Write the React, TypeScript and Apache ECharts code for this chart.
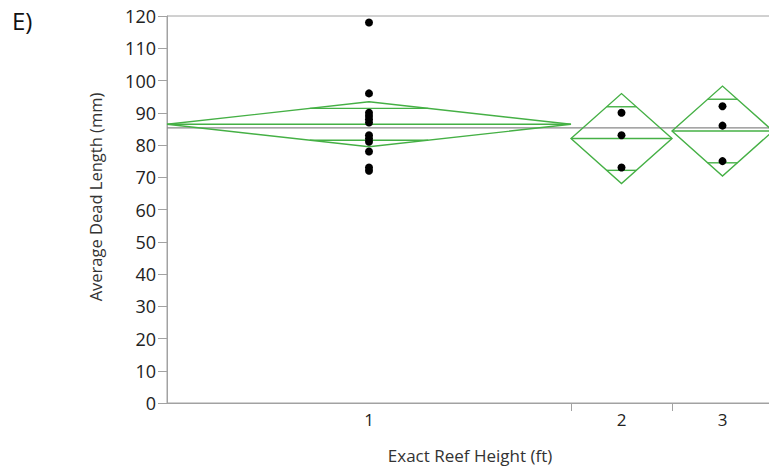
import React, { useEffect, useRef } from "react";
import * as echarts from "echarts";

// Data
const categories = ["1", "2", "3"];
const group1 = [118, 96, 90, 89, 88, 87, 83, 82, 81, 78, 73, 72];
const group2 = [90, 83, 73];
const group3 = [92, 86, 75];
const groups = [group1, group2, group3];
const yMin = 0;
const yMax = 120;
const yInterval = 10;
const T_CRIT = 2.131; // t(0.975, df = 15)

const FONT = "Open Sans";
const GREEN = "#45b045";
const GRAY = "#a2a2a2";

function buildStats() {
  const counts = groups.map((g) => g.length);
  const total = counts.reduce((a, b) => a + b, 0);
  const starts: number[] = [];
  let acc = 0;
  counts.forEach((c) => {
    starts.push(acc);
    acc += c;
  });
  const ends = starts.map((s, i) => s + counts[i]);
  const centers = starts.map((s, i) => s + counts[i] / 2);
  const means = groups.map((g) => g.reduce((a, b) => a + b, 0) / g.length);
  const all = groups.flat();
  const grand = all.reduce((a, b) => a + b, 0) / all.length;
  let ss = 0;
  groups.forEach((g, i) => g.forEach((v) => (ss += (v - means[i]) ** 2)));
  const df = total - groups.length;
  const sPooled = Math.sqrt(ss / df);
  const cis = counts.map((n) => (T_CRIT * sPooled) / Math.sqrt(n));
  return { counts, total, starts, ends, centers, means, grand, cis };
}

export default function App() {
  const ref = useRef<HTMLDivElement>(null);
  useEffect(() => {
    if (!ref.current) return;
    const chart = echarts.init(ref.current, undefined, { renderer: "svg" });
    const st = buildStats();

    const points: number[][] = [];
    groups.forEach((g, i) => g.forEach((v) => points.push([st.centers[i], v])));

    const diamondData = groups.map((_, i) => [st.starts[i], st.ends[i], st.means[i], st.cis[i]]);

    chart.setOption({
      animation: false,
      backgroundColor: "#ffffff",
      textStyle: { fontFamily: FONT },
      grid: {
        left: 167,
        top: 16,
        right: 1,
        bottom: 67,
        show: true,
        borderColor: GRAY,
        borderWidth: 1,
        backgroundColor: "transparent",
      },
      graphic: [
        {
          type: "text",
          left: 12,
          top: 8,
          style: { text: "E)", fontSize: 24, fontFamily: FONT, fill: "#111" },
        },
        {
          type: "text",
          x: 95,
          y: 197,
          rotation: Math.PI / 2,
          style: {
            text: "Average Dead Length (mm)",
            fontSize: 16.5,
            fontFamily: FONT,
            fill: "#333",
            align: "center",
            verticalAlign: "middle",
          },
        },
      ],
      xAxis: {
        type: "value",
        min: 0,
        max: st.total,
        name: "Exact Reef Height (ft)",
        nameLocation: "middle",
        nameGap: 44,
        nameTextStyle: { fontSize: 17, color: "#333", fontFamily: FONT },
        axisLine: { show: true, lineStyle: { color: GRAY, width: 1 } },
        axisTick: {
          show: true,
          length: 8,
          lineStyle: { color: GRAY },
          customValues: st.ends.slice(0, -1),
        },
        axisLabel: {
          show: true,
          customValues: st.centers,
          fontSize: 17,
          color: "#222",
          margin: 8,
          formatter: (v: number) => {
            const idx = st.centers.findIndex((c) => Math.abs(c - v) < 1e-6);
            return idx >= 0 ? categories[idx] : "";
          },
        },
        splitLine: { show: false },
      },
      yAxis: {
        type: "value",
        min: yMin,
        max: yMax,
        interval: yInterval,
        axisLine: { show: true, lineStyle: { color: GRAY, width: 1 } },
        axisTick: { show: true, length: 9, lineStyle: { color: GRAY } },
        axisLabel: { fontSize: 18, color: "#222", margin: 11 },
        splitLine: { show: false },
      },
      series: [
        {
          type: "line",
          data: [
            [0, st.grand],
            [st.total, st.grand],
          ],
          symbol: "none",
          lineStyle: { color: "#888888", width: 1.3 },
          z: 1,
        },
        {
          type: "custom",
          data: diamondData,
          z: 2,
          renderItem: (params: any, api: any) => {
            const x0 = api.value(0);
            const x1 = api.value(1);
            const m = api.value(2);
            const ci = api.value(3);
            const xc = (x0 + x1) / 2;
            const pL = api.coord([x0, m]);
            const pR = api.coord([x1, m]);
            const pT = api.coord([xc, m + ci]);
            const pB = api.coord([xc, m - ci]);
            const k = Math.SQRT1_2;
            const halfFrac = (1 - k) / 2;
            const ox0 = xc - (x1 - x0) * halfFrac;
            const ox1 = xc + (x1 - x0) * halfFrac;
            const oU0 = api.coord([ox0, m + ci * k]);
            const oU1 = api.coord([ox1, m + ci * k]);
            const oL0 = api.coord([ox0, m - ci * k]);
            const oL1 = api.coord([ox1, m - ci * k]);
            const ls = { stroke: GREEN, lineWidth: 1.4, fill: "none" };
            return {
              type: "group",
              children: [
                { type: "polygon", shape: { points: [pL, pT, pR, pB] }, style: ls },
                { type: "line", shape: { x1: pL[0], y1: pL[1], x2: pR[0], y2: pR[1] }, style: ls },
                { type: "line", shape: { x1: oU0[0], y1: oU0[1], x2: oU1[0], y2: oU1[1] }, style: ls },
                { type: "line", shape: { x1: oL0[0], y1: oL0[1], x2: oL1[0], y2: oL1[1] }, style: ls },
              ],
            };
          },
        },
        {
          type: "scatter",
          data: points,
          symbol: "circle",
          symbolSize: 8,
          itemStyle: { color: "#000", opacity: 1 },
          z: 3,
        },
      ],
    });
    return () => chart.dispose();
  }, []);
  return (
    <div
      style={{
        position: "absolute",
        left: 0,
        top: 0,
        width: 769,
        height: 470,
        overflow: "hidden",
      }}
    >
      <div ref={ref} style={{ width: 774, height: 470 }} />
    </div>
  );
}
